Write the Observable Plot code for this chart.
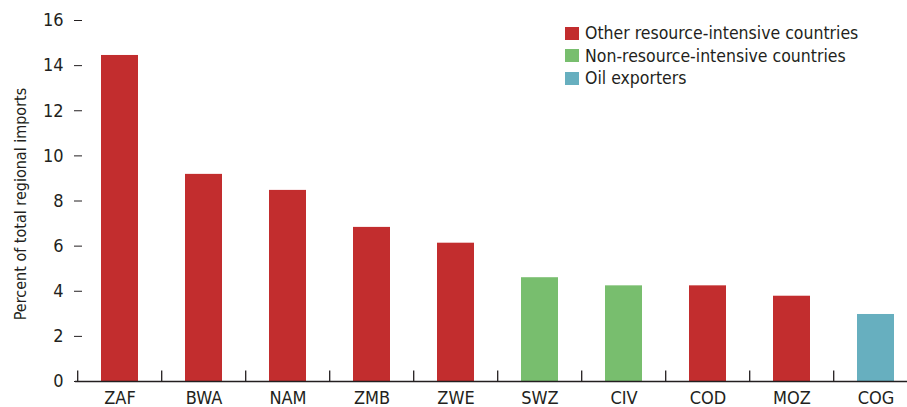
<!DOCTYPE html>
<html>
<head>
<meta charset="utf-8">
<script src="https://cdn.jsdelivr.net/npm/d3@7"></script>
<script src="https://cdn.jsdelivr.net/npm/@observablehq/plot@0.6"></script>
<style>
  html, body { margin: 0; padding: 0; background: #fff; }
  #wrap { position: relative; width: 907px; height: 407px; overflow: hidden;
    font-family: "Liberation Sans Narrow", "Arial Narrow", "DejaVu Sans Condensed", sans-serif; color: #231f20; }
  #legend { position: absolute; left: 565px; top: 22px; font-size: 17.5px; line-height: 22.5px; }
  #legend .row { display: flex; align-items: center; white-space: nowrap; }
  #legend .sw { width: 14px; height: 13px; margin-right: 6px; flex: none; }
</style>
</head>
<body>
<div id="wrap"><div id="legend"></div></div>
<script>
const countries = ["ZAF", "BWA", "NAM", "ZMB", "ZWE", "SWZ", "CIV", "COD", "MOZ", "COG"];
const values = [14.45, 9.18, 8.47, 6.83, 6.13, 4.6, 4.24, 4.24, 3.78, 2.97];
const groupNames = ["Other resource-intensive countries", "Non-resource-intensive countries", "Oil exporters"];
const groupOf = [0, 0, 0, 0, 0, 1, 1, 0, 0, 2];
const groupColors = ["#c22d2e", "#78be6e", "#67afbf"];
const yTicks = [0, 2, 4, 6, 8, 10, 12, 14, 16];
const yTitle = "Percent of total regional imports";

const data = countries.map((c, i) => ({country: c, value: values[i], group: groupNames[groupOf[i]]}));

const font = '"Liberation Sans Narrow", "Arial Narrow", "DejaVu Sans Condensed", sans-serif';
const chart = Plot.plot({
  width: 907,
  height: 407,
  marginTop: 20,
  marginBottom: 26,
  marginLeft: 82,
  marginRight: 0,
  style: {fontFamily: font, fontSize: "18px", color: "#231f20", background: "transparent"},
  x: {domain: countries, range: [75, 921], paddingInner: 0.555, paddingOuter: 0.2775, align: 0.5},
  y: {domain: [0, 16]},
  color: {domain: groupNames, range: groupColors},
  marks: [
    Plot.barY(data, {x: "country", y: "value", fill: "group"}),
    Plot.ruleY([0], {stroke: "#231f20", strokeWidth: 1.3, insetLeft: -7}),
    Plot.ruleX(countries, {x: d => d, y1: 0, y2: 0.47, dx: -42.3, stroke: "#231f20", strokeWidth: 1.3}),
    Plot.axisY({ticks: yTicks, tickSize: 8, tickPadding: 11, tickFormat: d => String(d), stroke: "#231f20", label: null}),
    Plot.text([yTitle], {
      frameAnchor: "left", textAnchor: "middle", dx: -62, dy: 3, rotate: -90,
      fontSize: 16, text: d => d, fill: "#231f20"
    }),
    Plot.axisX({tickSize: 0, tickPadding: 10, label: null})
  ]
});
document.getElementById("wrap").prepend(chart);

const legend = document.getElementById("legend");
groupNames.forEach((g, i) => {
  const row = document.createElement("div");
  row.className = "row";
  const sw = document.createElement("span");
  sw.className = "sw";
  sw.style.background = groupColors[i];
  const t = document.createElement("span");
  t.textContent = g;
  row.append(sw, t);
  legend.append(row);
});
</script>
</body>
</html>
